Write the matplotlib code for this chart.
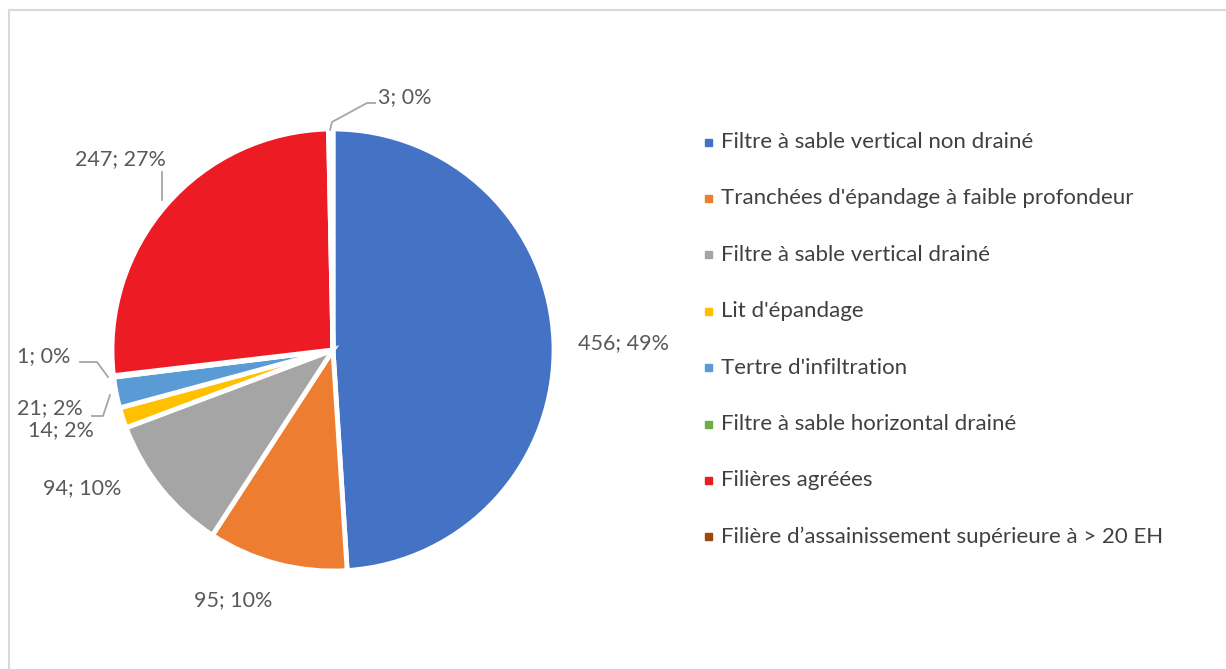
import matplotlib.pyplot as plt
from matplotlib.patches import Rectangle

plt.rcParams['font.family'] = ['Lato', 'DejaVu Sans']

# Data
categories = [
    "Filtre à sable vertical non drainé",
    "Tranchées d'épandage à faible profondeur",
    "Filtre à sable vertical drainé",
    "Lit d'épandage",
    "Tertre d'infiltration",
    "Filtre à sable horizontal drainé",
    "Filières agréées",
    "Filière d’assainissement supérieure à > 20 EH",
]
values = [456, 95, 94, 14, 21, 1, 247, 3]
colors = ["#4472C4", "#ED7D31", "#A5A5A5", "#FFC000", "#5B9BD5",
          "#70AD47", "#ED1C24", "#9E480E"]

W, H = 1226, 669
fig = plt.figure(figsize=(W / 100, H / 100), dpi=100)
ax = fig.add_axes([0, 0, 1, 1])

cx, cy, R = 333, H - 350, 221
wedges, _ = ax.pie(values, colors=colors, startangle=90, counterclock=False,
                   center=(cx, cy), radius=R, explode=[0.04] * len(values),
                   wedgeprops=dict(edgecolor="white", linewidth=3.5), frame=True)
ax.set_xlim(0, W)
ax.set_ylim(0, H)
ax.set_aspect('equal')
ax.axis('off')

# chart frame (top and left edges visible)
ax.plot([9, W], [H - 10, H - 10], color="#d9d9d9", lw=1.5)
ax.plot([9, 9], [H - 10, 0], color="#d9d9d9", lw=1.5)

total = sum(values)
labels = [f"{v}; {round(v / total * 100)}%" for v in values]

# label positions (pixel coords, y from top)
label_pos = [(624, 343), (233, 600), (82, 488), (61, 430),
             (50, 408), (44, 356), (120, 159), (405, 97)]
text_color = "#595959"
for lab, (x, y) in zip(labels, label_pos):
    ax.text(x, H - y, lab, ha="center", va="center", fontsize=15.5, color=text_color)

# leader lines
leaders = [
    [(375, 103), (367, 103), (332, 122), (330, 130)],
    [(162, 172), (162, 200)],
    [(80, 362), (97, 362), (108, 377)],
    [(92, 416), (103, 416), (110, 395)],
]
for pts in leaders:
    ax.plot([p[0] for p in pts], [H - p[1] for p in pts], color="#a6a6a6", lw=1.3)

# legend
ly0, dy = 142, 56.4
for i, (cat, col) in enumerate(zip(categories, colors)):
    y = H - (ly0 + i * dy)
    ax.add_patch(Rectangle((705, y - 3.5), 7, 7, color=col))
    ax.text(721, y, cat, ha="left", va="center", fontsize=16, color="#404040")

fig.savefig("out.png", dpi=100)
